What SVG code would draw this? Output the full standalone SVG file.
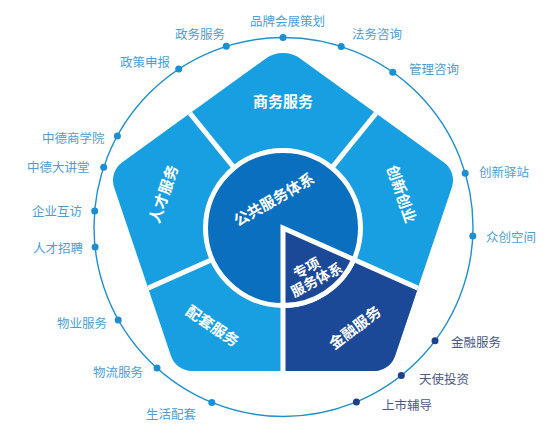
<svg xmlns="http://www.w3.org/2000/svg" width="554" height="433" viewBox="0 0 554 433">
<style>
.lbl{font-family:"Noto Sans CJK SC","Noto Sans",sans-serif;font-size:12.5px;fill:#4ba0d8}
.lbl.dk{fill:#4a5886}
.in{font-family:"Noto Sans CJK SC","Noto Sans",sans-serif;font-size:15px;fill:#ffffff;font-weight:bold;text-anchor:middle}
.dot{fill:#1a8fd2}
.dot.dk{fill:#1d3f8c}
.div{stroke:#ffffff;stroke-width:5;fill:none}
</style>
<defs>
<clipPath id="pent">
<path id="pentShape" d="M265.18,58.90 A30,30 0 0 1 300.82,58.90 L444.04,162.62 A22,22 0 0 1 451.92,187.17 L395.08,355.83 A22,22 0 0 1 374,371 L192,371 A22,22 0 0 1 170.92,355.83 L114.08,187.17 A22,22 0 0 1 121.96,162.62 Z"/>
</clipPath>
</defs>
<rect width="554" height="433" fill="#ffffff"/>
<g id="outer-ring">
<circle cx="283.5" cy="227" r="189.5" fill="none" stroke="#1e8fd0" stroke-width="1.4"/>
</g>
<g id="pentagon">
<path d="M265.18,58.90 A30,30 0 0 1 300.82,58.90 L444.04,162.62 A22,22 0 0 1 451.92,187.17 L395.08,355.83 A22,22 0 0 1 374,371 L192,371 A22,22 0 0 1 170.92,355.83 L114.08,187.17 A22,22 0 0 1 121.96,162.62 Z" fill="#189fe2"/>
<polygon points="283,228 557,350 557,600 283,600" fill="#1c4898" clip-path="url(#pent)"/>
</g>
<g id="connectors" clip-path="url(#pent)">
<line class="div" x1="283" y1="228" x2="163" y2="80"/>
<line class="div" x1="283" y1="228" x2="403" y2="80"/>
<line class="div" x1="283" y1="228" x2="557" y2="350"/>
<line class="div" x1="283" y1="228" x2="283" y2="420"/>
<line class="div" x1="283" y1="228" x2="9" y2="350"/>
</g>
<g id="public-system">
<circle cx="283" cy="228" r="77.5" fill="#0b6fc0" stroke="#ffffff" stroke-width="5"/>
<text class="in" transform="translate(274,199.5) rotate(-30)" y="5.5">公共服务体系</text>
</g>
<g id="special-system">
<path d="M283,228 L353.8,259.5 A77.5,77.5 0 0 1 283,305.5 Z" fill="#1c4898" stroke="#ffffff" stroke-width="5" stroke-linejoin="miter"/>
<g transform="translate(311.7,274) rotate(-28)">
<text class="in" style="font-size:14px" x="-1.7" y="-2.5">专项</text>
<text class="in" style="font-size:14px" x="1.7" y="12.5">服务体系</text>
</g>
</g>
<g id="n-business"><text class="in" x="283" y="107">商务服务</text></g>
<g id="n-talent"><text class="in" transform="translate(163.5,194) rotate(-71)" y="5.5">人才服务</text></g>
<g id="n-innovation"><text class="in" transform="translate(401.5,194) rotate(71)" y="5.5">创新创业</text></g>
<g id="n-support"><text class="in" transform="translate(212.5,326) rotate(34)" y="5.5">配套服务</text></g>
<g id="n-finance"><text class="in" transform="translate(355,327.5) rotate(-37)" y="5.5">金融服务</text></g>
<g id="items">
<circle class="dot" cx="283" cy="37.5" r="3.5"/><text class="lbl" x="250" y="25.5">品牌会展策划</text>
<circle class="dot" cx="226.3" cy="46.3" r="3.5"/><text class="lbl" x="175" y="38.5">政务服务</text>
<circle class="dot" cx="341.2" cy="46.5" r="3.5"/><text class="lbl" x="352" y="38.5">法务咨询</text>
<circle class="dot" cx="178.7" cy="69.1" r="3.5"/><text class="lbl" x="120" y="66.5">政策申报</text>
<circle class="dot" cx="392.8" cy="72.2" r="3.5"/><text class="lbl" x="409" y="73.5">管理咨询</text>
<circle class="dot" cx="117.4" cy="135.9" r="3.5"/><text class="lbl" x="42" y="142.5">中德商学院</text>
<circle class="dot" cx="103.7" cy="167.2" r="3.5"/><text class="lbl" x="27" y="171.5">中德大讲堂</text>
<circle class="dot" cx="94.7" cy="211.1" r="3.5"/><text class="lbl" x="32" y="215.5">企业互访</text>
<circle class="dot" cx="95.1" cy="247" r="3.5"/><text class="lbl" x="33" y="252.5">人才招聘</text>
<circle class="dot" cx="118.2" cy="319.9" r="3.5"/><text class="lbl" x="57" y="327.5">物业服务</text>
<circle class="dot" cx="157" cy="368" r="3.5"/><text class="lbl" x="93" y="376.5">物流服务</text>
<circle class="dot" cx="211.8" cy="402.5" r="3.5"/><text class="lbl" x="146" y="418.5">生活配套</text>
<circle class="dot" cx="465.2" cy="173.2" r="3.5"/><text class="lbl" x="479" y="176.5">创新驿站</text>
<circle class="dot" cx="472.8" cy="236" r="3.5"/><text class="lbl" x="486" y="241.5">众创空间</text>
<circle class="dot dk" cx="435" cy="340.8" r="3.5"/><text class="lbl dk" x="451" y="346.5">金融服务</text>
<circle class="dot dk" cx="401.3" cy="375.4" r="3.5"/><text class="lbl dk" x="419" y="383.5">天使投资</text>
<circle class="dot dk" cx="356.4" cy="401.9" r="3.5"/><text class="lbl dk" x="382" y="409.5">上市辅导</text>
</g>
</svg>
